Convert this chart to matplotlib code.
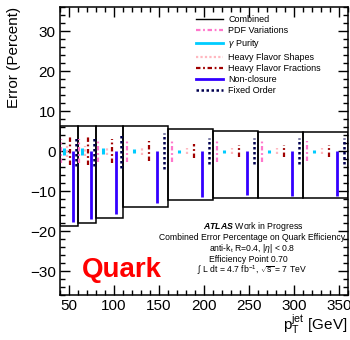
import numpy as np
import matplotlib
matplotlib.use("Agg")
import matplotlib.pyplot as plt
from matplotlib.lines import Line2D

plt.rcParams['font.family'] = ['Liberation Sans', 'DejaVu Sans']
plt.rcParams['mathtext.fontset'] = 'custom'
plt.rcParams['mathtext.rm'] = 'Liberation Sans'
plt.rcParams['mathtext.it'] = 'Liberation Sans:italic'
plt.rcParams['mathtext.bf'] = 'Liberation Sans:bold'
plt.rcParams['mathtext.bfit'] = 'Liberation Sans:italic:bold'

# pT bins [GeV]
bin_edges = [40, 60, 80, 110, 160, 210, 260, 310, 360]

# errors in percent
comb_up = [6.2, 6.2, 6.2, 6.2, 5.6, 5.0, 4.8, 4.8]
comb_down = [18.7, 17.9, 16.6, 13.9, 12.3, 11.7, 11.6, 11.6]
pdf = [3.0, 3.0, 2.7, 2.8, 2.7, 2.7, 2.6, 2.5]
gamma_purity = [0.9, 0.9, 0.7, 0.5, 0.4, 0.4, 0.4, 0.4]
hf_shapes = [1.5, 1.2, 1.0, 1.0, 0.8, 0.8, 0.8, 0.8]
hf_fractions = [3.5, 3.5, 3.0, 2.5, 1.7, 1.5, 1.5, 1.5]
non_closure = [17.8, 17.0, 15.6, 13.0, 11.5, 11.0, 11.2, 11.3]
fixed_order = [3.7, 3.8, 4.2, 4.5, 3.3, 3.3, 3.3, 3.3]

edges = np.array(bin_edges, dtype=float)
lo = edges[:-1]
width = np.diff(edges)

fig = plt.figure(figsize=(3.5, 3.4), dpi=100)
ax = fig.add_axes([0.171, 0.132, 0.823, 0.847])

# combined error boxes
ax.bar(lo, np.array(comb_up) + np.array(comb_down), width=width, bottom=-np.array(comb_down),
       align='edge', fill=False, edgecolor='black', linewidth=1.1, zorder=1)

# each source sits at its own slot inside the bin
def slot(i):
    return lo + (i + 0.5) * width / 6.

pdf_c = '#ff77cc'
cyan_c = '#00ccff'
hfs_c = '#ffb8c0'
hff_c = '#a00000'
nc_c = '#3300ff'
fo_c = '#000050'
dashdot = (0, (2, 1.2, 0.8, 1.2))

ax.vlines(slot(0), -np.array(pdf), pdf, colors=pdf_c, linestyles=dashdot, linewidth=1.6)
ax.vlines(slot(1), -np.array(gamma_purity), gamma_purity, colors=cyan_c, linewidth=2.2)
ax.vlines(slot(2), -np.array(hf_shapes), hf_shapes, colors=hfs_c, linestyles=(0, (1, 1)), linewidth=1.6)
ax.vlines(slot(3), -np.array(hf_fractions), hf_fractions, colors=hff_c, linestyles=dashdot, linewidth=1.6)
ax.vlines(slot(4), -np.array(non_closure), 0, colors=nc_c, linewidth=2.0)
ax.vlines(slot(5), -np.array(fixed_order), fixed_order, colors=fo_c, linestyles=(0, (1, 1)), linewidth=1.8)

ax.set_xlim(40, 360)
ax.set_ylim(-36, 36)
ax.set_xticks(np.arange(50, 351, 50))
ax.set_yticks(np.arange(-30, 31, 10))
ax.set_xticks(np.arange(40, 361, 10), minor=True)
ax.set_yticks(np.arange(-36, 37, 2), minor=True)
ax.tick_params(which='both', direction='in', top=True, right=True, labelsize=11, pad=3)
ax.tick_params(which='major', length=7, width=1)
ax.tick_params(which='minor', length=3.5, width=1)
for s in ax.spines.values():
    s.set_linewidth(1.1)

ax.set_ylabel("Error (Percent)", fontsize=11, loc='top')
ax.yaxis.set_label_coords(-0.135, 1.0)
ax.set_xlabel(r"$\mathrm{p_{T}^{jet}}$ [GeV]", fontsize=11, loc='right')
ax.xaxis.set_label_coords(1.0, -0.06)

handles = [
    Line2D([], [], color='black', lw=1),
    Line2D([], [], color=pdf_c, lw=1.6, ls=dashdot),
    Line2D([], [], color=cyan_c, lw=2),
    Line2D([], [], color=hfs_c, lw=1.6, ls=(0, (1, 1))),
    Line2D([], [], color=hff_c, lw=1.6, ls=dashdot),
    Line2D([], [], color=nc_c, lw=2),
    Line2D([], [], color=fo_c, lw=1.8, ls=(0, (1, 1))),
]
labels = ["Combined", "PDF Variations", r"$\gamma$ Purity", "Heavy Flavor Shapes",
          "Heavy Flavor Fractions", "Non-closure", "Fixed Order"]
ax.legend(handles, labels, loc='upper left', bbox_to_anchor=(0.45, 0.995), frameon=False,
          fontsize=6.5, handlelength=3.0, handletextpad=0.6, labelspacing=0.25, borderpad=0.2)

ax.text(0.67, 0.24, r"$\mathbfit{ATLAS}$ Work in Progress", transform=ax.transAxes,
        ha='center', va='center', fontsize=6.3)
ax.text(0.667, 0.20, "Combined Error Percentage on Quark Efficiency", transform=ax.transAxes,
        ha='center', va='center', fontsize=6.2)
ax.text(0.667, 0.163, r"anti-k$_{\mathrm{t}}$ R=0.4, |$\eta$| < 0.8", transform=ax.transAxes,
        ha='center', va='center', fontsize=6.2)
ax.text(0.655, 0.125, "Efficiency Point 0.70", transform=ax.transAxes,
        ha='center', va='center', fontsize=6.2)
ax.text(0.667, 0.088, r"$\int$ L dt = 4.7 fb$^{-1}$, $\sqrt{\mathrm{s}}$ = 7 TeV", transform=ax.transAxes,
        ha='center', va='center', fontsize=6.2)
ax.text(0.076, 0.0625, "Quark", transform=ax.transAxes, ha='left', va='baseline',
        fontsize=20, fontweight='bold', color='red')

fig.savefig("out.png", dpi=100)
